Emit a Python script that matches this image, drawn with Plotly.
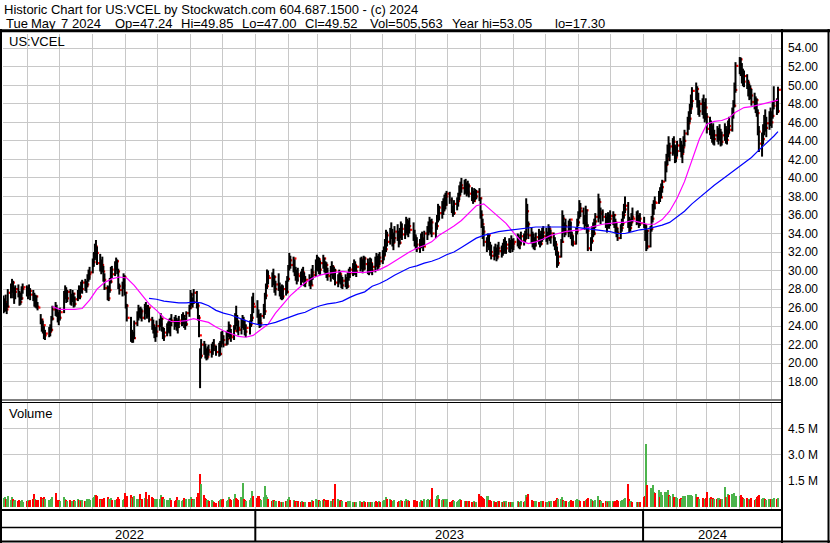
import pandas as pd
import plotly.graph_objects as go

# ---------------------------------------------------------------- data
symbol_label = "US:VCEL"
volume_label = "Volume"
header_title = "Historic Chart for US:VCEL by Stockwatch.com 604.687.1500 - (c) 2024"
header_fields = ["Tue", "May", "7", "2024", "Op=47.24", "Hi=49.85", "Lo=47.00",
                 "Cl=49.52", "Vol=505,563", "Year hi=53.05", "lo=17.30"]
year_labels = ["2022", "2023", "2024"]

first_day, last_day = "2022-05-09", "2024-05-07"
market_holidays = ["2022-05-30", "2022-06-20", "2022-07-04", "2022-09-05", "2022-11-24",
                   "2022-12-26", "2023-01-02", "2023-01-16", "2023-02-20", "2023-04-07",
                   "2023-05-29", "2023-06-19", "2023-07-04", "2023-09-04", "2023-11-23",
                   "2023-12-25", "2024-01-01", "2024-01-15", "2024-02-19", "2024-03-29"]

high = [
    27.3,27.0,27.4,26.5,28.0,28.6,29.1,28.9,28.2,28.4,28.5,27.8,27.6,28.3,28.6,28.4,
    28.2,28.5,28.1,27.9,27.6,27.4,27.3,26.6,25.3,24.8,24.6,24.0,23.6,23.9,24.2,25.1,26.2,26.6,26.3,25.8,25.5,
    26.0,27.8,28.4,28.2,27.9,28.0,27.5,27.9,27.6,27.2,27.9,28.4,28.3,28.8,29.0,29.1,28.9,29.6,30.1,30.4,
    31.3,32.0,32.9,33.3,32.6,31.8,31.2,31.5,30.5,29.7,28.4,28.3,29.2,30.4,30.5,31.0,31.4,31.2,30.2,28.6,28.8,29.7,29.5,
    27.7,26.4,25.0,23.6,23.4,24.6,25.6,26.3,26.0,26.1,25.9,26.4,26.6,26.2,26.3,26.0,25.0,24.7,24.1,23.9,24.6,
    24.8,25.4,24.9,23.9,23.8,24.3,24.5,24.8,24.9,25.3,25.0,25.2,24.9,24.7,25.1,25.3,25.5,25.2,24.9,25.6,26.3,
    27.9,27.6,27.1,28.0,27.8,26.5,25.2,21.6,22.6,22.4,22.1,21.6,21.8,22.0,22.1,22.3,22.6,21.9,22.2,22.4,23.4,
    23.5,23.0,23.4,23.6,24.5,24.2,23.7,24.1,25.4,26.2,25.2,24.6,24.8,25.2,25.0,24.6,24.2,24.6,25.3,27.2,27.6,
    26.8,25.8,25.3,25.4,26.4,27.6,28.6,30.1,30.0,29.8,30.2,29.5,28.9,29.7,28.7,28.3,28.5,28.4,28.9,29.4,
    30.6,31.9,31.6,31.5,31.2,30.4,30.1,30.3,29.9,30.2,30.4,29.8,29.4,29.6,29.3,30.2,30.6,31.2,31.7,
    31.5,31.4,31.1,31.7,31.4,31.0,30.9,30.3,30.5,31.0,30.6,30.4,30.2,29.6,30.1,29.9,29.5,29.3,29.6,29.3,29.8,30.2,30.4,
    30.8,31.2,31.0,30.6,31.4,31.5,31.2,31.6,31.5,31.3,30.9,31.4,31.3,30.8,31.5,31.9,31.6,31.8,32.0,
    32.2,32.6,33.4,34.4,34.2,34.6,35.2,34.5,34.1,34.8,35.0,34.3,34.6,35.3,35.1,35.0,35.8,35.6,35.4,35.7,35.2,34.4,
    33.9,33.6,33.4,34.0,34.2,33.5,34.3,34.8,35.3,35.8,35.5,35.6,35.2,36.0,37.2,37.0,37.5,37.8,38.2,38.4,38.6,
    38.5,37.9,37.0,37.6,37.9,38.4,39.2,39.6,40.0,39.8,39.9,39.5,39.7,39.4,39.0,38.6,38.9,38.8,38.7,38.9,
    37.9,36.5,35.6,34.8,33.6,34.0,33.9,33.1,32.8,32.6,32.9,32.5,32.8,33.1,32.7,33.0,33.4,33.6,33.2,33.5,33.3,33.8,33.4,
    33.5,34.0,33.9,33.6,34.2,34.0,34.3,37.8,37.2,35.3,34.7,34.2,34.0,33.6,34.1,34.5,34.0,34.3,34.6,34.8,
    34.6,34.2,35.0,34.8,34.4,34.1,33.6,33.2,32.6,32.0,33.4,36.5,36.0,35.2,35.6,35.4,35.6,35.3,34.2,33.8,34.6,35.6,
    36.4,37.6,37.3,36.8,36.0,37.0,36.6,35.0,33.6,34.8,35.2,35.6,36.2,38.3,37.8,36.8,36.6,36.2,35.8,36.3,36.1,
    36.5,36.4,36.1,35.6,35.2,34.6,35.0,35.6,36.4,37.2,38.0,37.4,35.8,35.6,36.2,36.8,36.4,36.5,36.0,36.2,
    35.8,35.0,34.9,34.4,34.8,35.9,37.2,37.6,38.0,38.6,39.0,39.4,39.8,41.8,42.6,43.6,44.5,43.8,44.3,44.5,43.6,
    43.4,44.0,44.3,44.0,43.6,44.5,45.2,46.6,47.2,48.0,49.0,49.8,50.3,49.9,49.2,48.4,48.6,49.0,48.2,48.6,
    47.0,46.6,46.2,45.6,45.9,45.2,45.6,45.4,45.8,45.3,45.0,45.9,45.6,45.2,46.2,46.6,47.6,48.4,50.3,52.5,
    53.05,53.0,52.4,51.8,51.6,51.2,50.6,50.2,50.0,49.6,49.2,48.8,48.6,47.4,45.6,44.9,45.8,46.8,47.4,46.6,47.2,47.6,
    47.2,48.2,49.9,48.6,49.85,
]
low = [
    25.4,25.5,25.6,25.3,26.0,27.0,27.6,27.0,26.4,26.9,27.1,26.2,26.3,26.8,27.5,27.2,
    26.9,27.3,26.8,26.7,26.1,26.0,25.9,25.7,24.2,23.4,23.2,22.6,22.5,22.8,22.9,23.4,24.6,25.1,25.0,24.4,24.1,
    24.6,25.4,26.9,26.5,26.6,26.3,26.2,26.6,26.0,26.1,26.7,27.0,26.9,27.6,27.5,27.8,27.6,28.2,28.8,29.0,
    29.7,30.4,31.1,31.3,30.6,29.9,29.6,29.8,28.8,27.9,26.8,26.7,27.6,28.6,29.2,29.4,30.0,29.6,28.0,27.4,27.2,28.0,27.3,
    25.9,24.5,22.3,22.2,22.2,22.6,24.0,24.6,24.9,24.8,24.5,24.7,25.3,24.8,25.0,24.4,23.6,23.2,22.7,22.3,22.8,
    23.5,23.9,23.4,22.6,22.4,22.9,23.3,23.2,22.9,24.0,23.6,23.9,23.5,23.2,23.8,24.0,24.2,23.8,23.6,24.0,25.0,
    25.8,26.2,26.0,26.4,25.9,24.6,22.8,17.3,20.5,20.9,20.5,20.3,20.4,20.8,20.6,20.9,21.3,20.8,20.7,20.8,21.7,
    22.1,21.7,21.9,22.0,22.8,22.6,22.3,22.5,23.6,24.0,23.3,23.0,23.1,23.8,23.6,23.0,22.8,23.1,23.9,24.5,25.4,
    24.9,24.2,23.8,23.9,24.8,25.2,26.9,28.0,28.5,28.2,28.4,27.6,27.3,27.8,27.2,26.9,26.8,26.9,27.3,27.5,
    28.8,30.0,30.2,29.8,29.4,28.9,28.5,28.8,28.4,28.7,29.0,28.3,28.2,28.3,28.0,28.4,29.0,29.3,30.0,
    29.9,29.6,29.5,30.2,29.8,29.6,29.2,28.9,28.8,29.5,29.1,29.0,28.4,28.2,28.7,28.5,28.1,28.0,28.2,28.0,28.1,28.9,29.2,
    29.4,29.6,29.5,29.3,29.9,30.1,29.7,30.0,30.1,29.6,29.5,29.9,29.7,29.5,29.8,30.4,30.0,30.2,30.6,
    30.7,31.1,31.6,32.0,32.6,32.8,33.4,32.6,32.2,33.0,33.2,32.5,32.8,33.5,33.3,33.4,34.0,33.8,33.6,34.0,33.2,32.6,
    32.3,32.0,31.9,32.4,32.5,32.1,32.6,33.3,33.8,34.1,33.9,33.6,33.5,34.4,35.2,35.4,35.6,36.0,36.4,36.6,37.0,
    37.2,36.2,35.8,36.0,36.5,36.9,37.6,38.1,38.4,38.2,38.3,38.0,38.2,37.9,37.5,37.2,37.4,37.6,37.7,37.5,
    35.6,34.6,33.4,32.6,32.0,32.5,32.2,31.6,31.2,31.1,31.5,31.0,31.2,31.7,31.4,31.6,31.8,32.1,31.8,32.0,31.9,32.3,32.0,
    32.2,32.6,32.4,32.3,32.8,32.7,33.0,33.4,34.6,33.4,32.9,32.5,32.3,32.2,32.6,32.8,32.5,32.7,33.1,33.3,
    33.1,32.8,33.4,33.2,32.9,32.6,32.2,31.6,30.3,30.5,31.4,33.0,34.0,33.6,33.8,33.6,34.0,33.4,32.7,32.6,32.8,33.9,
    34.8,35.6,35.8,35.0,34.4,34.8,34.0,32.1,32.1,32.9,33.6,33.8,34.6,35.2,35.6,35.0,35.3,34.6,34.1,34.6,34.5,
    34.8,34.9,34.6,34.0,33.6,33.2,33.4,34.2,34.8,35.6,36.2,34.6,34.1,34.2,34.8,35.2,34.9,35.0,34.6,34.8,
    34.6,33.2,32.1,32.3,32.5,34.2,35.2,36.0,36.6,37.2,37.4,37.8,38.4,39.6,40.6,41.4,42.2,41.8,42.4,42.6,41.6,
    41.7,42.3,42.8,42.2,41.6,42.7,43.4,44.6,45.2,46.0,46.9,47.6,48.4,47.6,46.8,46.6,46.8,46.4,46.0,46.2,
    44.8,44.6,44.2,43.8,43.6,43.5,43.9,43.6,44.0,43.4,43.5,44.0,43.7,43.6,44.4,44.8,45.0,46.4,47.6,49.2,
    51.2,51.0,50.2,49.9,49.8,49.6,48.8,48.4,48.5,47.8,47.4,47.0,46.6,44.6,42.8,42.3,43.6,44.6,45.0,44.4,45.2,45.6,
    45.4,46.4,47.4,46.8,47.0,
]
close = [
    25.8,26.6,25.8,26.1,27.6,28.1,28.7,27.3,27.7,28.0,27.5,26.6,27.0,28.0,28.2,27.4,
    27.9,27.8,27.4,27.0,26.5,27.2,26.1,26.0,24.7,23.8,24.1,23.0,23.2,23.4,23.6,24.8,25.8,25.6,25.4,25.0,24.9,
    25.5,27.6,27.8,27.0,27.7,26.8,27.0,27.5,26.4,26.9,27.6,27.2,28.1,28.0,28.7,28.3,28.5,29.3,29.6,29.8,
    30.9,31.6,32.6,31.9,30.8,30.1,30.6,29.9,29.0,28.1,27.0,27.9,28.8,30.1,29.6,30.6,31.0,29.9,28.3,27.9,28.4,29.3,27.6,
    26.2,24.9,22.7,23.2,22.7,24.3,25.3,25.8,25.4,25.6,24.9,26.1,25.6,25.2,26.0,24.7,24.1,23.5,23.0,23.4,24.0,
    24.2,24.8,23.7,22.9,23.3,23.8,23.9,24.1,24.6,24.5,24.4,24.2,23.9,24.3,24.6,24.7,25.1,24.3,24.2,25.4,26.0,
    27.4,26.5,26.6,27.6,26.2,24.9,23.0,20.8,22.0,21.3,21.0,20.7,21.4,21.2,21.5,21.9,21.6,21.2,21.0,22.1,22.9,
    22.5,22.0,22.6,23.2,24.0,23.0,22.8,23.5,24.9,24.5,23.8,23.6,24.2,24.6,24.0,23.4,23.8,24.2,24.9,26.4,26.1,
    25.2,24.6,24.3,25.1,25.6,27.3,28.3,29.4,29.2,28.6,29.3,28.0,28.5,28.1,27.6,27.8,27.2,28.0,27.7,29.1,
    30.4,31.1,30.6,31.3,29.7,29.0,29.6,29.4,28.9,29.8,29.3,28.7,29.0,28.6,28.4,29.8,29.5,30.6,30.8,
    31.2,30.1,30.8,31.3,30.2,30.6,29.6,29.4,30.1,30.4,29.5,30.0,28.7,29.3,29.6,28.8,28.4,28.9,28.5,28.3,29.4,29.7,30.1,
    30.3,30.6,29.9,30.4,31.2,30.6,30.2,31.3,30.7,30.1,30.5,30.8,30.0,30.4,31.2,30.9,30.5,31.4,31.0,
    31.6,32.2,32.3,33.8,33.1,34.0,33.8,33.0,33.5,34.2,33.6,33.0,34.1,34.5,33.9,34.6,35.3,34.2,34.8,34.4,33.6,33.2,
    32.8,32.4,32.9,33.5,32.7,32.6,34.0,34.4,34.9,34.6,35.2,34.0,34.8,35.6,36.8,36.2,36.5,37.4,37.1,38.0,38.3,
    37.6,36.5,36.2,37.2,37.5,38.1,38.8,39.2,38.9,39.4,38.8,38.5,39.1,38.3,37.8,37.5,38.4,38.0,38.5,37.8,
    36.0,35.0,34.2,33.1,33.4,33.8,32.6,32.0,31.6,32.2,31.8,31.5,32.4,32.1,32.3,32.0,32.7,32.4,32.8,32.5,33.0,32.6,32.9,
    33.1,33.5,32.8,33.2,33.7,33.4,33.9,36.4,35.0,33.8,33.4,33.0,32.7,33.2,33.6,33.2,32.9,33.8,34.1,33.7,
    33.5,33.9,34.5,33.6,34.0,33.0,32.8,32.0,30.8,31.5,33.1,35.6,34.4,34.8,34.2,35.1,35.5,33.8,33.1,32.9,34.3,35.2,
    35.9,36.7,36.4,35.4,35.1,36.5,34.3,32.4,33.2,34.3,34.0,35.3,35.8,37.4,36.1,36.3,35.8,35.0,35.4,35.0,35.6,
    35.9,36.0,35.2,34.6,34.1,33.5,34.6,35.1,36.0,36.6,37.0,35.0,34.6,35.2,35.8,35.6,35.9,35.3,35.6,35.1,
    34.9,33.5,34.3,32.6,34.5,35.6,36.8,37.4,37.3,38.3,37.9,39.0,39.6,41.4,42.0,43.2,42.7,43.4,43.9,43.0,42.2,
    42.9,43.5,43.2,42.6,43.3,44.0,44.8,45.9,46.4,47.5,48.3,49.4,49.6,48.1,47.2,48.0,47.4,46.8,47.6,46.6,
    45.3,45.6,44.7,45.0,44.2,44.6,44.3,45.0,44.4,43.9,44.6,45.2,44.1,44.8,45.6,45.2,47.0,47.8,49.5,52.1,
    52.8,51.6,50.6,50.4,51.0,50.3,49.2,49.6,48.9,48.2,47.9,48.4,47.0,45.0,43.7,44.2,45.3,46.2,45.4,45.9,46.8,46.0,
    46.7,47.8,48.3,47.2,49.52,
]
volume_k = [
    520,610,480,450,650,420,560,470,380,400,350,430,360,410,330,380,
    400,370,420,450,770,480,430,390,600,520,450,560,480,420,380,500,560,810,440,420,390,
    380,560,470,400,380,420,350,330,400,360,450,390,430,360,420,380,340,450,470,430,
    520,600,700,680,620,480,420,450,500,520,560,450,470,520,400,440,430,460,560,480,420,450,810,
    560,620,700,540,600,670,500,460,770,420,480,520,860,450,480,710,600,520,490,450,480,
    480,710,560,600,450,420,380,400,520,390,380,420,600,400,430,380,410,520,470,450,500,
    560,480,420,500,600,810,700,1910,1320,710,520,450,420,380,400,350,330,250,380,420,450,
    420,450,380,420,560,450,400,480,750,520,450,400,600,1380,480,420,380,420,550,940,620,
    520,670,480,420,560,1230,710,600,450,380,420,400,380,350,330,300,320,310,340,380,
    450,560,400,420,380,350,330,360,300,380,320,330,300,310,290,400,350,480,420,
    380,420,360,400,450,380,420,400,350,380,460,400,1320,500,430,380,420,350,330,300,380,340,360,
    300,320,280,300,350,320,330,380,300,290,310,330,300,280,320,350,300,340,330,
    350,400,420,600,450,500,420,380,350,400,330,350,380,420,350,380,450,380,400,360,420,400,
    380,350,330,420,360,340,450,420,480,400,450,1090,500,620,710,450,420,500,430,480,500,
    300,380,400,350,330,360,420,450,400,380,350,330,360,340,330,310,350,320,330,770,
    650,600,520,480,670,650,420,400,380,350,330,320,380,340,300,320,350,330,340,300,320,310,330,
    320,350,330,310,340,330,360,720,600,770,420,380,350,340,360,330,320,350,380,360,
    330,300,360,320,340,380,350,400,520,450,480,600,420,380,350,330,360,400,380,350,420,450,
    400,420,380,350,330,400,450,520,480,420,360,380,400,670,420,360,250,380,350,330,360,
    350,380,330,360,400,380,350,400,420,480,550,1320,450,380,350,330,300,320,330,330,
    600,620,3600,1280,1100,750,1280,900,800,1000,600,850,700,900,850,1000,700,650,750,600,500,
    600,550,480,520,500,620,650,700,680,620,720,650,770,600,560,500,520,480,500,520,
    860,520,600,480,550,500,450,520,430,480,500,1130,560,600,750,720,760,730,800,650,
    650,700,600,550,500,520,480,450,400,550,430,500,600,650,700,500,520,550,480,400,450,500,
    450,500,550,480,506,
]
# moving averages, one reading per week (last trading day of the week)
ma_fast = [
    26.1,25.8,25.8,25.8,25.9,26.8,28.0,28.7,29.1,29.3,29.2,28.4,27.4,26.4,25.7,24.9,24.5,24.5,24.6,24.8,
    24.6,24.4,23.9,23.5,23.2,22.9,22.8,23.0,
    23.6,24.2,25.4,26.3,27.3,28.0,28.7,29.2,29.5,29.7,29.8,29.9,29.8,29.8,29.8,29.9,30.1,30.5,31.0,31.5,
    32.0,32.4,32.7,33.1,33.8,34.3,34.8,35.4,36.2,37.0,37.2,36.5,35.9,35.1,34.1,33.2,32.9,33.1,33.4,33.8,
    34.0,34.2,34.3,34.4,34.6,34.8,35.0,35.1,35.2,35.2,35.4,35.2,
    35.0,35.0,35.5,36.4,37.8,39.6,42.0,44.2,45.8,46.1,46.2,46.5,47.1,47.6,47.7,47.9,48.1,48.3,48.4,
]
ma_slow = [
    27.0,26.9,26.7,26.6,26.5,26.5,26.6,26.5,26.2,25.7,25.4,25.2,24.9,24.6,24.3,
    24.1,24.2,24.4,24.7,25.0,25.3,25.5,25.9,26.2,26.4,26.5,26.7,27.1,27.4,27.7,28.3,28.6,29.0,29.5,29.9,
    30.3,30.5,30.8,31.0,31.3,31.7,32.0,32.5,33.0,33.5,33.8,34.0,34.2,34.3,34.4,34.5,34.6,34.7,34.7,34.7,
    34.7,34.7,34.7,34.6,34.5,34.4,34.3,34.2,34.0,34.0,34.2,34.4,
    34.5,34.7,34.9,35.2,35.8,36.4,37.2,37.9,38.6,39.2,39.8,40.4,41.0,41.6,42.2,43.0,43.7,44.5,45.0,
]
price_ticks = [18, 20, 22, 24, 26, 28, 30, 32, 34, 36, 38, 40, 42, 44, 46, 48, 50, 52, 54]
volume_ticks = [1.5e6, 3.0e6, 4.5e6]
volume_tick_labels = ["1.5 M", "3.0 M", "4.5 M"]

# ---------------------------------------------------------------- dates
dates = pd.bdate_range(first_day, last_day)
dates = dates[~dates.isin(pd.to_datetime(market_holidays))]
lens = dict(high=len(high), low=len(low), close=len(close), volume=len(volume_k))
if any(v != len(dates) for v in lens.values()):
    raise SystemExit(f"length mismatch {lens} vs {len(dates)} dates")
week_last = pd.Series(dates, index=dates).groupby(dates.to_period("W")).max()
week_ends = pd.DatetimeIndex(week_last.values)

# ---------------------------------------------------------------- layout helpers
W, H = 830, 543
ML, MR, MT, MB = 3, 49, 34, 33
PW, PH = W - ML - MR, H - MT - MB


def fx(p):
    return (p - ML) / PW


def fy(p):
    return (H - MB - p) / PH


X_START = pd.Timestamp("2022-05-08 12:00")
X_END = pd.Timestamp("2024-05-09 20:00")
GRID = "#C8C8C8"
FONT = "Liberation Sans, Arial, sans-serif"

fig = go.Figure()

# red close marks (partly hidden by the following day's bar)
fig.add_trace(go.Scatter(
    x=dates + pd.Timedelta(hours=40), y=close, mode="markers",
    marker=dict(symbol="square", size=2.2, color="#FF0000", line=dict(width=0)),
    hoverinfo="skip", xaxis="x", yaxis="y"))

# high-low bars
bx, by = [], []
for d, h, l in zip(dates, high, low):
    bx += [d, d, None]
    by += [l, h, None]
fig.add_trace(go.Scatter(x=bx, y=by, mode="lines", line=dict(color="black", width=2),
                         hoverinfo="skip", xaxis="x", yaxis="y"))

fig.add_trace(go.Scatter(x=week_ends[-len(ma_fast):], y=ma_fast, mode="lines",
                         line=dict(color="#FF00FF", width=1.2), xaxis="x", yaxis="y"))
fig.add_trace(go.Scatter(x=week_ends[-len(ma_slow):], y=ma_slow, mode="lines",
                         line=dict(color="#0000FF", width=1.2), xaxis="x", yaxis="y"))

# volume
vol = [v * 1000 for v in volume_k]
colors = ["#4CB44C"] + ["#4CB44C" if c1 >= c0 else "#FF0000"
                        for c0, c1 in zip(close[:-1], close[1:])]
fig.add_trace(go.Bar(x=dates, y=vol, width=1.9 * 86400000,
                     marker=dict(color=colors, line=dict(width=0)),
                     xaxis="x2", yaxis="y2", hoverinfo="skip"))

xcommon = dict(type="date", range=[X_START, X_END], showgrid=True, gridcolor=GRID,
               gridwidth=1, dtick="M1", tick0="2022-06-01", showticklabels=False,
               ticks="", zeroline=False, showline=False)
fig.update_layout(
    width=W, height=H,
    margin=dict(l=ML, r=MR, t=MT, b=MB, pad=0, autoexpand=False),
    paper_bgcolor="white", plot_bgcolor="white", showlegend=False,
    font=dict(family=FONT, size=12, color="black"),
    xaxis=dict(anchor="y", **xcommon),
    xaxis2=dict(anchor="y2", matches="x", **xcommon),
    yaxis=dict(domain=[fy(399), fy(MT)], range=[16.13, 55.54], side="right", anchor="x",
               tickvals=price_ticks, ticktext=[f"{v:.2f}" for v in price_ticks],
               showgrid=True, gridcolor=GRID, zeroline=False, ticks="",
               ticklabelstandoff=6, tickfont=dict(size=12, color="black")),
    yaxis2=dict(domain=[0, fy(403)], range=[-0.154e6, 5.95e6], side="right", anchor="x2",
                tickvals=volume_ticks, ticktext=volume_tick_labels,
                showgrid=True, gridcolor=GRID, zeroline=False, ticks="",
                ticklabelstandoff=6, tickfont=dict(size=12, color="black")),
    bargap=0,
)


def hline(y, x0, x1, w):
    return dict(type="line", xref="paper", yref="paper", x0=fx(x0), x1=fx(x1),
                y0=fy(y), y1=fy(y), line=dict(color="black", width=w), layer="above")


def vline(x, y0, y1, w):
    return dict(type="line", xref="paper", yref="paper", x0=fx(x), x1=fx(x),
                y0=fy(y0), y1=fy(y1), line=dict(color="black", width=w), layer="above")


shapes = [
    hline(30.7, 0, W, 3),
    vline(1, 29, H, 2),
    vline(782, 29, H, 2),
    vline(828.5, 29, H, 2),
    hline(400, 0, 782, 1),
    hline(402.5, 0, 782, 1),
    hline(510, 0, 782, 2),
    hline(527.5, 0, 782, 1.5),
    hline(541.5, 0, W, 2),
]
for jan1 in ["2023-01-01", "2024-01-01"]:
    shapes.append(dict(type="line", xref="x", yref="paper", x0=jan1, x1=jan1,
                       y0=fy(510), y1=fy(542), line=dict(color="black", width=2),
                       layer="above"))
fig.update_layout(shapes=shapes)


def label(text, x, y, size=13, anchor="left"):
    return dict(text=text, x=fx(x), y=fy(y), xref="paper", yref="paper",
                xanchor=anchor, yanchor="middle", showarrow=False, borderpad=0,
                borderwidth=0, font=dict(family=FONT, size=size, color="black"))


field_x = [6, 31, 61, 72, 115, 181, 242, 305, 370, 452, 555]
annotations = [label(header_title, 4, 9.5)]
annotations += [label(t, x, 23.5) for t, x in zip(header_fields, field_x)]
annotations += [label(symbol_label, 9, 41.5), label(volume_label, 9, 413)]

bounds = [X_START, pd.Timestamp("2023-01-01"), pd.Timestamp("2024-01-01"), X_END]
for yr, a, b in zip(year_labels, bounds[:-1], bounds[1:]):
    annotations.append(dict(text=yr, x=a + (b - a) / 2, xref="x", y=fy(534.5), yref="paper",
                            xanchor="center", yanchor="middle", showarrow=False,
                            font=dict(family=FONT, size=13, color="black")))
fig.update_layout(annotations=annotations)

fig.write_html("out.html", config={"displayModeBar": False},
               post_script="document.body.style.margin='0';document.body.style.padding='0';")
